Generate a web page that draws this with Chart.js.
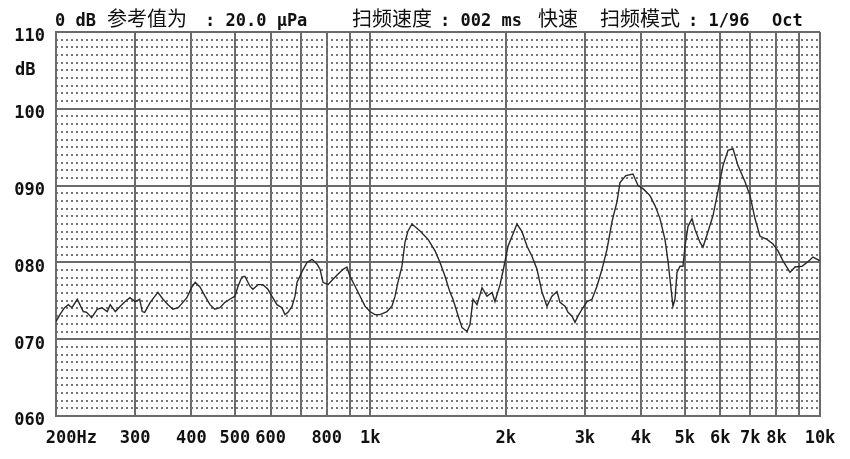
<!DOCTYPE html>
<html>
<head>
<meta charset="utf-8">
<script src="https://cdn.jsdelivr.net/npm/chart.js@4.4.0/dist/chart.umd.min.js"></script>
<style>
  html, body { margin: 0; padding: 0; background: #fff; }
</style>
</head>
<body>
<canvas id="chart" width="850" height="459"></canvas>
<script>
// frequency response (Hz, dB)
const freqs = [
  200, 204, 209, 213, 217, 223, 226, 230, 234, 240, 247, 253, 260, 264, 271, 278, 285, 292, 300, 307,
  311, 315, 324, 332, 337, 346, 355, 364, 374, 383, 391, 401, 408, 418, 429, 440, 451, 463, 475, 487,
  500, 508, 518, 526, 540, 548, 563, 577, 592, 604, 620, 636, 646, 656, 670, 680, 687, 705, 723, 742,
  761, 773, 785, 805, 826, 848, 870, 887, 901, 925, 949, 973, 998, 1024, 1051, 1089, 1117, 1135, 1152, 1176,
  1194, 1213, 1238, 1290, 1344, 1393, 1429, 1466, 1504, 1527, 1559, 1599, 1641, 1666, 1692, 1727, 1772, 1817, 1865, 1893,
  1943, 1983, 2024, 2076, 2119, 2174, 2231, 2288, 2348, 2409, 2471, 2535, 2601, 2641, 2710, 2752, 2809, 2852, 2896, 2956,
  3033, 3112, 3192, 3275, 3360, 3447, 3537, 3591, 3700, 3838, 3938, 4040, 4187, 4296, 4407, 4521, 4591, 4639, 4710, 4759, 4808,
  4883, 4958, 5009, 5087, 5192, 5273, 5409, 5493, 5635, 5782, 5932, 6085, 6243, 6405, 6571, 6811, 6988, 7169, 7355, 7623,
  7861, 8065, 8274, 8576, 8799, 9120, 9356, 9648, 10000
];
const levels = [
  72.3, 73.2, 74.1, 74.5, 74.1, 75.2, 74.5, 73.6, 73.5, 72.8, 73.9, 74.1, 73.6, 74.5, 73.6, 74.3, 74.9, 75.4, 74.9, 75.2,
  73.6, 73.5, 74.8, 75.6, 76.1, 75.2, 74.5, 73.9, 74.1, 74.8, 75.4, 76.8, 77.4, 76.8, 75.6, 74.5, 73.9, 74.1, 74.8, 75.2,
  75.6, 76.9, 78.1, 78.2, 76.9, 76.5, 77.1, 77.1, 76.5, 75.6, 74.5, 74.1, 73.2, 73.5, 74.3, 75.6, 77.4, 78.8, 80.0, 80.4,
  79.8, 79.1, 77.4, 77.1, 77.8, 78.5, 79.1, 79.4, 78.2, 76.9, 75.6, 74.3, 73.6, 73.2, 73.2, 73.6, 74.3, 75.6, 77.4, 79.5,
  82.6, 84.1, 85.0, 84.1, 83.0, 81.5, 80.0, 78.2, 76.1, 75.2, 73.5, 71.5, 71.0, 71.9, 75.2, 74.5, 76.7, 75.6, 76.1, 74.9,
  77.1, 79.5, 82.1, 83.7, 85.0, 84.0, 82.1, 80.8, 79.1, 76.1, 74.3, 75.6, 76.2, 74.8, 74.3, 73.5, 73.0, 72.2, 73.0, 73.9,
  74.9, 75.2, 76.9, 79.1, 81.7, 85.3, 87.9, 90.4, 91.3, 91.5, 90.0, 89.6, 88.7, 87.4, 85.7, 83.0, 80.2, 77.8, 74.3, 75.2, 78.7,
  79.5, 79.5, 82.1, 84.7, 85.7, 84.3, 82.6, 82.0, 84.0, 86.1, 89.3, 92.6, 94.6, 94.8, 92.6, 90.5, 88.7, 85.7, 83.4, 83.0,
  82.4, 81.5, 80.2, 78.7, 79.4, 79.5, 80.0, 80.7, 80.2
];

const xTicks = [200, 300, 400, 500, 600, 700, 800, 900, 1000, 2000, 3000, 4000, 5000, 6000, 7000, 8000, 9000, 10000];
const xTickLabels = ['   200Hz', '300', '400', '500', '600', '', '800', '', '1k', '2k', '3k', '4k', '5k', '6k', '7k', '8k', '', '10k'];
const yTicks = [60, 70, 80, 90, 100, 110];
const yTickLabels = ['060', '070', '080', '090', '100', '110'];

// header line: [text, x, kind]
const headerParts = [
  ['0 dB', 55, 'a'], ['参考值为', 107, 'c'], [': 20.0 μPa', 205, 'a'],
  ['扫频速度', 352, 'c'], [': 002 ms', 440, 'a'], ['快速', 538, 'c'],
  ['扫频模式', 600, 'c'], [': 1/96', 688, 'a'], ['Oct', 772, 'a']
];

const ASCII_FONT = 'bold 17px "DejaVu Sans Mono"';
const CJK_FONT = '20px "Noto Sans CJK SC"';

const headerPlugin = {
  id: 'header',
  afterDraw(chart) {
    const ctx = chart.ctx;
    ctx.save();
    ctx.fillStyle = '#111';
    ctx.textBaseline = 'alphabetic';
    ctx.textAlign = 'left';
    headerParts.forEach(p => {
      ctx.font = p[2] === 'c' ? CJK_FONT : ASCII_FONT;
      ctx.fillText(p[0], p[1], 26);
    });
    ctx.font = ASCII_FONT;
    ctx.fillText('dB', 15, 75);
    ctx.restore();
  }
};

const points = freqs.map((f, i) => ({x: f, y: levels[i]}));

const ctx = document.getElementById('chart').getContext('2d');
const chart = new Chart(ctx, {
  type: 'line',
  data: {
    datasets: [{
      data: points,
      borderColor: '#2a2a2a',
      borderWidth: 1.4,
      pointRadius: 0,
      tension: 0,
      fill: false
    }]
  },
  options: {
    responsive: false,
    animation: false,
    devicePixelRatio: 1,
    layout: { padding: { top: 32, right: 30, left: 0, bottom: 0 } },
    plugins: {
      legend: { display: false },
      tooltip: { enabled: false }
    },
    scales: {
      x: {
        type: 'logarithmic',
        min: 200,
        max: 10000,
        afterBuildTicks: s => { s.ticks = xTicks.map(v => ({value: v})); },
        afterFit: s => { s.height = 43; },
        ticks: {
          autoSkip: false,
          maxRotation: 0,
          minRotation: 0,
          padding: 12,
          color: '#111',
          font: { family: 'DejaVu Sans Mono', weight: 'bold', size: 17 },
          callback: (v, i) => xTickLabels[i]
        },
        grid: { color: '#6a6a6a', lineWidth: 2, drawTicks: false },
        border: { color: '#6a6a6a', width: 2 }
      },
      yMinor: {
        position: 'left',
        min: 60,
        max: 110,
        afterFit: s => { s.width = 0; },
        ticks: { display: false, stepSize: 1 },
        grid: {
          z: -1,
          drawTicks: false,
          lineWidth: 2,
          color: c => (c.tick && c.tick.value % 10 === 0) ? 'rgba(0,0,0,0)' : '#777'
        },
        border: { display: false, dash: [2, 3] }
      },
      y: {
        position: 'left',
        min: 60,
        max: 110,
        afterBuildTicks: s => { s.ticks = yTicks.map(v => ({value: v})); },
        afterFit: s => { s.width = 56; },
        ticks: {
          padding: 11,
          labelOffset: 5,
          color: '#111',
          font: { family: 'DejaVu Sans Mono', weight: 'bold', size: 17 },
          callback: (v, i) => yTickLabels[i]
        },
        grid: { color: '#6a6a6a', lineWidth: 2, drawTicks: false },
        border: { color: '#6a6a6a', width: 2 }
      }
    }
  },
  plugins: [headerPlugin]
});
</script>
</body>
</html>
